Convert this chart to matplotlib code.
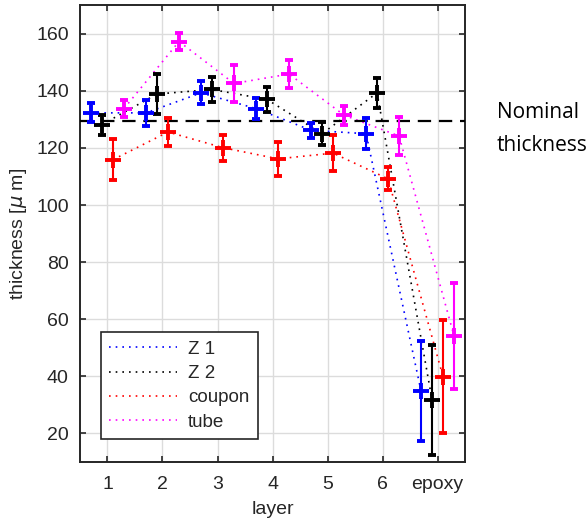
import numpy as np
import matplotlib
matplotlib.use("Agg")
import matplotlib.pyplot as plt

plt.rcParams.update({
    "font.family": ["Liberation Sans", "DejaVu Sans"],
    "mathtext.fontset": "dejavusans",
    "axes.edgecolor": "#262626",
    "xtick.color": "#262626",
    "ytick.color": "#262626",
    "text.color": "#262626",
    "axes.labelcolor": "#262626",
})

# layer thickness data (mean and error per layer)
layers = ["1", "2", "3", "4", "5", "6", "epoxy"]
z1 = [132.3, 132.3, 139.3, 133.8, 126.2, 125.0, 34.8]
z1_err = [3.3, 4.5, 4.0, 3.7, 2.7, 5.5, 17.6]
z2 = [128.2, 138.9, 140.5, 137.0, 125.0, 139.3, 31.7]
z2_err = [3.5, 7.0, 4.5, 4.5, 4.0, 5.3, 19.3]
coupon = [115.9, 125.6, 120.1, 116.2, 118.2, 109.2, 39.8]
coupon_err = [7.2, 5.0, 4.5, 6.0, 6.3, 4.0, 19.8]
tube = [133.8, 157.3, 142.6, 145.9, 131.5, 124.2, 54.1]
tube_err = [3.0, 3.0, 6.5, 5.0, 3.3, 6.5, 18.5]
nominal = 129.5

series = [
    ("Z 1", z1, z1_err, "#0000ff", -0.3),
    ("Z 2", z2, z2_err, "#000000", -0.1),
    ("coupon", coupon, coupon_err, "#ff0000", 0.1),
    ("tube", tube, tube_err, "#ff00ff", 0.3),
]

fig = plt.figure(figsize=(5.88, 5.25), dpi=100)
ax = fig.add_axes([0.136, 0.12, 0.655, 0.87])

x = np.arange(1, len(layers) + 1)
for name, vals, err, col, off in series:
    ax.plot(x + off, vals, color=col, linestyle=(0, (1, 3)), linewidth=1.2,
            label=name, zorder=2)
for name, vals, err, col, off in series:
    ax.errorbar(x + off, vals, yerr=err, fmt="+", color=col, markersize=12,
                markeredgewidth=2.8, elinewidth=1.5, capsize=2.8,
                capthick=1.5, zorder=4)

ax.axhline(nominal, color="black", linestyle=(0, (6, 3.5)), linewidth=1.6,
           zorder=3)

ax.set_xlim(0.5, 7.5)
ax.set_ylim(10, 170)
ax.set_xticks(x)
ax.set_xticklabels(layers)
ax.set_yticks(np.arange(20, 161, 20))
ax.grid(True, color="#dcdcdc", linewidth=1.0)
ax.set_axisbelow(True)
ax.tick_params(direction="in", top=True, right=True, length=4, width=1.2,
               labelsize=14, pad=8)
ax.tick_params(axis="x", pad=10)
for sp in ax.spines.values():
    sp.set_linewidth(1.4)

ax.set_xlabel("layer", fontsize=14, labelpad=6)
ax.set_ylabel(r"thickness [$\mu$ m]", fontsize=14, labelpad=5)

leg = ax.legend(loc="lower left", bbox_to_anchor=(0.054, 0.05),
                borderaxespad=0, fontsize=13.5, fancybox=False,
                edgecolor="#262626", framealpha=1, handlelength=3.6,
                handletextpad=0.6, labelspacing=0.38, borderpad=0.45)
leg.get_frame().set_linewidth(1.2)

ax.text(1.083, 0.728, "Nominal\nthickness", transform=ax.transAxes,
        fontsize=15, family="Open Sans", ha="left", va="center",
        linespacing=1.75, color="black")

fig.savefig("out.png", dpi=100)
